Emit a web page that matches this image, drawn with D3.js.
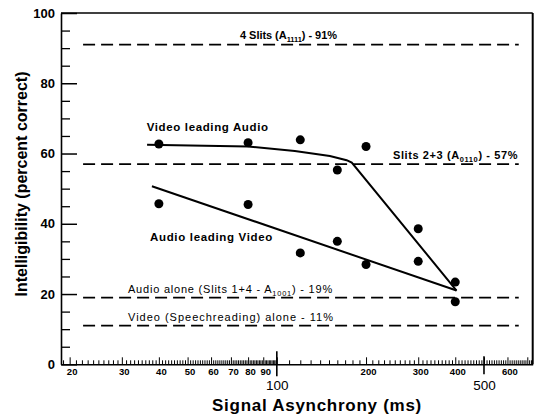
<!DOCTYPE html>
<html><head><meta charset="utf-8">
<script src="https://cdn.jsdelivr.net/npm/d3@7"></script>
<style>
body{margin:0;background:#fff}
svg{display:block}
text{font-family:"Liberation Sans",Arial,Helvetica,sans-serif;fill:#000}
</style>
</head><body><svg id="c" width="536" height="414"></svg>
<script>
// ---- data ----
const delays = [40, 80, 120, 160, 200, 300, 400];
const videoLeading = [62.7, 63.1, 63.9, 55.3, 62.0, 38.6, 23.4];
const audioLeading = [45.7, 45.5, 31.7, 35.0, 28.4, 29.3, 17.8];
const videoFitX = [36.5, 80, 115, 151, 172, 179, 404];
const videoFitY = [62.5, 62.0, 60.7, 59.3, 58.1, 57.4, 21.0];
const audioFitX = [37.9, 404];
const audioFitY = [50.7, 21.0];
const refValues = [91, 57, 19, 11];
const refPre = ["4 Slits (A", "Slits 2+3 (A", "Audio alone (Slits 1+4 - A", "Video (Speechreading) alone - 11%"];
const refSub = ["1111", "0110", "1001", ""];
const refPost = [") - 91%", ") - 57%", ") - 19%", ""];
const seriesNames = ["Video leading Audio", "Audio leading Video"];
const yTickValues = [0, 20, 40, 60, 80, 100];
const xTickLabels = ["20", "30", "40", "50", "60", "70", "80", "90", "200", "300", "400", "600"];
const xTickLabelValues = [20, 30, 40, 50, 60, 70, 80, 90, 200, 300, 400, 600];
const xBigLabels = ["100", "500"];
const xBigValues = [100, 500];
const xTitle = "Signal Asynchrony (ms)";
const yTitle = "Intelligibility (percent correct)";

// ---- layout ----
const L = 61, R = 532.7, T = 13, B = 364.3;
const svg = d3.select("#c");
const x = d3.scaleLog().domain([18.7, 730]).range([L, R]);
const y = d3.scaleLinear().domain([0, 100]).range([B, T]);

function fit(sel, target) {
  const n = sel.node();
  const w = n.getComputedTextLength();
  const c = n.textContent.length;
  if (c > 1) sel.attr("letter-spacing", (target - w) / c);
}

// frame
svg.append("line").attr("x1", L).attr("x2", R).attr("y1", T).attr("y2", T).attr("stroke", "#000").attr("stroke-width", 1.5);
svg.append("line").attr("x1", R).attr("x2", R).attr("y1", T).attr("y2", B).attr("stroke", "#000").attr("stroke-width", 2);

// x minor ticks
const xMinor = [];
for (let v = 19; v < 100; v++) xMinor.push(v);
for (let v = 100; v <= 720; v += 10) xMinor.push(v);
const xMinorSmall = xMinor.filter(v => !(v < 100 ? v % 10 === 0 : v % 100 === 0));
const xMinorLong = xMinor.filter(v => (v < 100 ? v % 10 === 0 : v % 100 === 0));

const gx1 = svg.append("g").attr("transform", `translate(0,${B})`)
  .call(d3.axisBottom(x).tickValues(xMinorSmall).tickSize(-4).tickSizeOuter(0).tickFormat(""));
const gx2 = svg.append("g").attr("transform", `translate(0,${B})`)
  .call(d3.axisBottom(x).tickValues(xMinorLong).tickSize(-7).tickSizeOuter(0).tickFormat(""));
gx2.select(".domain").remove();
gx1.select(".domain").attr("stroke-width", 1.6);
[gx1, gx2].forEach(g => g.selectAll(".tick line").attr("stroke-width", 1));

// big ticks crossing the axis
svg.append("g").selectAll("line").data(xBigValues).join("line")
  .attr("x1", d => x(d)).attr("x2", d => x(d))
  .attr("y1", (d, i) => i === 0 ? B - 13 : B - 8).attr("y2", (d, i) => i === 0 ? B + 12 : B + 10)
  .attr("stroke", "#000").attr("stroke-width", 1.6);

// x small labels
const gxl = svg.append("g").attr("transform", `translate(2,${B})`)
  .call(d3.axisBottom(x).tickValues(xTickLabelValues).tickSize(0).tickPadding(4)
    .tickFormat((d, i) => xTickLabels[i]));
gxl.select(".domain").remove();
gxl.selectAll("text").attr("font-size", 9.5).attr("font-weight", "bold")
  .style("font-family", '"Liberation Sans",Arial,sans-serif');

// x big labels
const gxb = svg.append("g").attr("transform", `translate(0,${B})`)
  .call(d3.axisBottom(x).tickValues(xBigValues).tickSize(0).tickPadding(16)
    .tickFormat((d, i) => xBigLabels[i]));
gxb.select(".domain").remove();
gxb.selectAll("text").attr("font-size", 13.5)
  .style("font-family", '"Liberation Sans",Arial,sans-serif');

// y axis
const yMinor = d3.range(5, 100, 5).filter(v => v % 20 !== 0);
const gy1 = svg.append("g").attr("transform", `translate(${L},0)`)
  .call(d3.axisLeft(y).tickValues(yMinor).tickSize(-9).tickSizeOuter(0).tickFormat(""));
gy1.select(".domain").attr("stroke-width", 1.6);
const gy2 = svg.append("g").attr("transform", `translate(${L},0)`)
  .call(d3.axisLeft(y).tickValues(yTickValues).tickSize(-16).tickPadding(6).tickSizeOuter(0).tickFormat(d3.format("d")));
gy2.select(".domain").remove();
gy2.selectAll(".tick line").attr("stroke-width", 1.5);
gy2.selectAll("text").attr("font-size", 13).attr("font-weight", "bold")
  .style("font-family", '"Liberation Sans",Arial,sans-serif');
gy1.selectAll(".tick line").attr("stroke-width", 1.3);

// reference dashed lines
svg.append("g").selectAll("line").data(refValues).join("line")
  .attr("x1", x(22.2)).attr("x2", x(655)).attr("y1", d => y(d)).attr("y2", d => y(d))
  .attr("stroke", "#000").attr("stroke-width", 1.7).attr("stroke-dasharray", "12,6");

// reference labels
const refPos = [[240, 39, 97, "bold", 11], [393, 159, 125, "bold", 11], [128, 292.5, 205, "normal", 11], [128, 321, 206, "normal", 11]];
refValues.forEach((v, i) => {
  const p = refPos[i];
  const t = svg.append("text").attr("x", p[0]).attr("y", p[1]).attr("font-size", p[4]).attr("font-weight", p[3]);
  t.append("tspan").text(refPre[i]);
  if (refSub[i]) {
    t.append("tspan").attr("font-size", p[4] * 0.68).attr("dy", 3).text(refSub[i]);
    t.append("tspan").attr("dy", -3).text(refPost[i]);
  }
  fit(t, p[2]);
});

// series labels
const serPos = [[146.7, 131, 122], [150, 241, 123]];
seriesNames.forEach((s, i) => {
  const t = svg.append("text").attr("x", serPos[i][0]).attr("y", serPos[i][1])
    .attr("font-size", 11.5).attr("font-weight", "bold").text(s);
  fit(t, serPos[i][2]);
});

// fit lines
const line = d3.line().x(d => x(d[0])).y(d => y(d[1]));
svg.append("path").datum(videoFitX.map((v, i) => [v, videoFitY[i]])).attr("d", line)
  .attr("fill", "none").attr("stroke", "#000").attr("stroke-width", 2);
svg.append("path").datum(audioFitX.map((v, i) => [v, audioFitY[i]])).attr("d", line)
  .attr("fill", "none").attr("stroke", "#000").attr("stroke-width", 2);

// points
svg.append("g").selectAll("circle").data(delays.map((d, i) => [d, videoLeading[i]])).join("circle")
  .attr("cx", d => x(d[0])).attr("cy", d => y(d[1])).attr("r", 4.5).attr("fill", "#000");
svg.append("g").selectAll("circle").data(delays.map((d, i) => [d, audioLeading[i]])).join("circle")
  .attr("cx", d => x(d[0])).attr("cy", d => y(d[1])).attr("r", 4.5).attr("fill", "#000");

// titles
const xt = svg.append("text").attr("x", 317).attr("y", 411).attr("text-anchor", "middle")
  .attr("font-size", 17).attr("font-weight", "bold").text(xTitle);
fit(xt, 210);
const yt = svg.append("text").attr("transform", "translate(27,184) rotate(-90)").attr("text-anchor", "middle")
  .attr("font-size", 16).attr("font-weight", "bold").text(yTitle);
</script>
</body></html>
